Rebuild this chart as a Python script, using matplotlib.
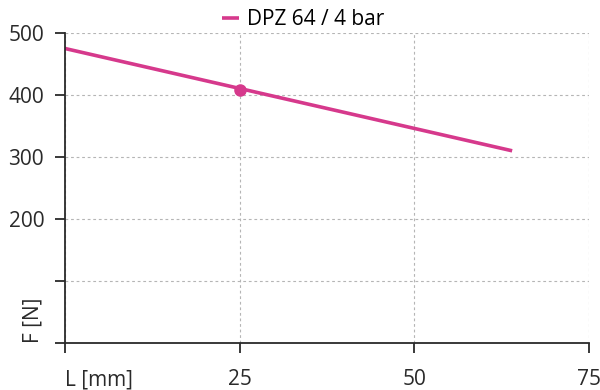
import matplotlib.pyplot as plt

stroke = [0, 64]
force = [475, 310]
marker_x = [25]
marker_y = [408]
x_ticks = [0, 25, 50, 75]
x_labels = ['L [mm]', '25', '50', '75']
y_ticks = [0, 100, 200, 300, 400, 500]
y_labels = ['', '', '200', '300', '400', '500']
series_name = 'DPZ 64 / 4 bar'
color = '#d6398c'
ink = '#2a2a2a'

plt.rcParams['font.family'] = ['Open Sans', 'DejaVu Sans']

fig = plt.figure(figsize=(6, 3.9), dpi=100)
ax = fig.add_axes([65 / 600, 47 / 390, 524 / 600, 310 / 390])

ax.plot(stroke, force, color=color, lw=2.6, solid_capstyle='butt', label=series_name)
ax.plot(marker_x, marker_y, 'o', color=color, ms=8)

ax.set_xlim(0, 75)
ax.set_ylim(0, 500)
ax.set_xticks(x_ticks)
ax.set_xticklabels(x_labels)
ax.set_yticks(y_ticks)
ax.set_yticklabels(y_labels)
ax.grid(True, ls=(0, (2.5, 2.5)), color='#b5b5b5', lw=0.8)
ax.spines['top'].set_visible(False)
ax.spines['right'].set_visible(False)
for s in ('left', 'bottom'):
    ax.spines[s].set_linewidth(1.3)
    ax.spines[s].set_color(ink)
ax.tick_params(axis='x', length=7, width=1.3, pad=12, labelsize=15, colors=ink)
ax.tick_params(axis='y', length=7, width=1.3, pad=8, labelsize=15, colors=ink)

# the x axis title doubles as the label of the 0 tick
first = ax.get_xticklabels()[0]
first.set_ha('left')
first.set_x(-0.4)

ax.text(-0.062, 0.0, 'F [N]', ha='center', va='bottom', rotation=90, fontsize=15,
        color=ink, transform=ax.transAxes)

ax.legend(loc='lower center', bbox_to_anchor=(0.455, 0.995), frameon=False, fontsize=15,
          handlelength=0.8, handletextpad=0.4, borderaxespad=0.0, borderpad=0.2)

fig.savefig('out.png', dpi=100)
